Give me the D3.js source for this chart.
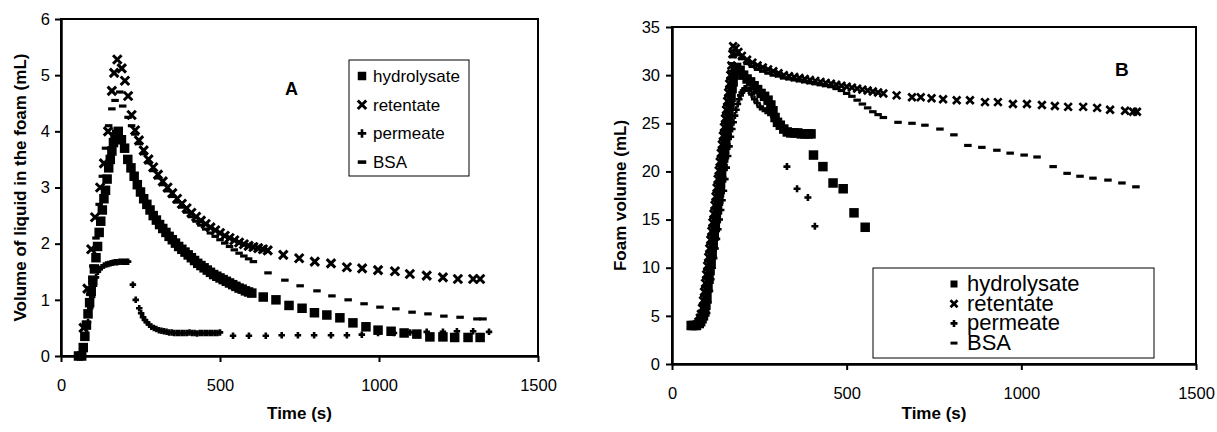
<!DOCTYPE html>
<html><head><meta charset="utf-8">
<script src="https://cdn.jsdelivr.net/npm/d3@7"></script>
<style>
body{margin:0;background:#fff}
text{font-family:"Liberation Sans",Arial,sans-serif;fill:#000}
</style>
</head><body><svg id="c" width="1217" height="432"></svg>
<script>
// ---------- Data (time in s, value in mL) ----------
const seriesNames = ["hydrolysate", "retentate", "permeate", "BSA"];
const xTicks = [0, 500, 1000, 1500];
const yTicksA = [0, 1, 2, 3, 4, 5, 6];
const yTicksB = [0, 5, 10, 15, 20, 25, 30, 35];

// Panel A: volume of liquid in the foam
const hydrolysateA = [[55,0],[65,0],[70,0.15],[75,0.35],[80,0.55],[85,0.75],[90,0.95],[95,1.15],[100,1.35],[105,1.55],[110,1.75],[115,1.95],[120,2.2],[125,2.4],[130,2.6],[135,2.8],[140,2.95],[145,3.15],[150,3.35],[155,3.5],[160,3.65],[165,3.8],[170,3.9],[175,3.95],[180,4.0],[190,3.85],[200,3.7],[210,3.5],[220,3.35],[230,3.2],[240,3.05],[250,2.92],[260,2.8],[270,2.7],[280,2.6],[290,2.5],[300,2.42],[310,2.34],[320,2.27],[330,2.2],[340,2.13],[350,2.07],[360,2.01],[370,1.95],[380,1.9],[390,1.85],[400,1.8],[410,1.75],[420,1.7],[430,1.65],[440,1.61],[450,1.57],[460,1.53],[470,1.49],[480,1.45],[490,1.42],[500,1.39],[510,1.36],[520,1.33],[530,1.3],[540,1.27],[550,1.24],[560,1.21],[570,1.19],[580,1.16],[590,1.14],[600,1.12],[636,1.05],[676,1.0],[717,0.9],[758,0.85],[797,0.77],[836,0.73],[877,0.68],[918,0.59],[959,0.52],[997,0.46],[1038,0.44],[1079,0.41],[1119,0.39],[1160,0.34],[1201,0.34],[1238,0.33],[1280,0.33],[1318,0.33]];
const retentateA = [[71,0.5],[83,1.2],[95,1.9],[107,2.47],[123,3.0],[135,3.43],[148,4.0],[160,4.72],[167,5.04],[177,5.28],[191,5.12],[201,4.9],[211,4.63],[222,4.29],[233,4.02],[245,3.84],[260,3.66],[275,3.5],[290,3.36],[305,3.23],[320,3.11],[335,3.0],[350,2.9],[365,2.8],[380,2.71],[395,2.63],[410,2.55],[425,2.48],[440,2.41],[455,2.35],[470,2.29],[485,2.24],[500,2.19],[515,2.14],[530,2.1],[545,2.06],[560,2.02],[575,1.99],[590,1.96],[605,1.94],[620,1.92],[635,1.9],[650,1.88],[699,1.8],[749,1.74],[798,1.68],[849,1.65],[899,1.58],[947,1.56],[997,1.53],[1050,1.51],[1097,1.46],[1150,1.43],[1201,1.4],[1248,1.37],[1296,1.37],[1318,1.37]];
const permeateA = [[60,0],[70,0.1],[78,0.35],[85,0.6],[92,0.85],[98,1.05],[104,1.25],[110,1.4],[116,1.5],[122,1.55],[128,1.58],[135,1.61],[142,1.63],[149,1.64],[156,1.65],[163,1.66],[170,1.67],[177,1.67],[184,1.68],[191,1.68],[198,1.68],[205,1.68],[211,1.68],[226,1.27],[235,1.0],[246,0.85],[252,0.76],[258,0.69],[264,0.64],[270,0.6],[277,0.56],[284,0.52],[292,0.5],[300,0.48],[308,0.46],[316,0.45],[324,0.44],[332,0.43],[340,0.42],[348,0.42],[356,0.41],[364,0.41],[372,0.41],[380,0.41],[388,0.41],[396,0.41],[404,0.42],[412,0.41],[420,0.41],[428,0.4],[436,0.41],[444,0.41],[452,0.41],[460,0.41],[468,0.41],[476,0.41],[484,0.41],[492,0.41],[500,0.42],[541,0.36],[591,0.36],[644,0.36],[694,0.37],[745,0.37],[796,0.37],[849,0.37],[899,0.37],[946,0.38],[997,0.41],[1047,0.41],[1098,0.42],[1150,0.43],[1201,0.43],[1245,0.44],[1296,0.44],[1346,0.43]];
const bsaA = [[70,0.2],[80,0.6],[90,1.1],[100,1.6],[110,2.1],[120,2.7],[130,3.2],[140,3.7],[150,4.1],[160,4.4],[170,4.55],[185,4.7],[194,4.45],[211,4.25],[222,4.1],[233,3.95],[245,3.78],[260,3.6],[275,3.44],[290,3.3],[305,3.17],[320,3.05],[335,2.94],[350,2.84],[365,2.74],[380,2.65],[395,2.56],[410,2.48],[425,2.4],[440,2.33],[455,2.26],[470,2.19],[485,2.13],[500,2.07],[515,2.01],[530,1.95],[545,1.89],[560,1.83],[575,1.78],[590,1.73],[605,1.68],[651,1.48],[704,1.35],[752,1.25],[805,1.16],[852,1.07],[903,1.0],[953,0.93],[1003,0.87],[1053,0.84],[1104,0.78],[1154,0.75],[1204,0.71],[1255,0.69],[1308,0.66],[1327,0.66]];

// Panel B: foam volume
const hydrolysateB = [[55,4.0],[62,4.0],[70,4.0],[78,4.2],[82,4.4],[86,4.7],[90,5.0],[94,5.4],[97,6.1],[100,7.0],[103,7.9],[106,8.8],[109,9.7],[112,10.6],[115,11.5],[118,12.4],[121,13.3],[124,14.2],[127,15.1],[130,16.0],[133,16.9],[136,17.8],[139,18.7],[142,19.6],[145,20.5],[148,21.4],[151,22.3],[154,23.2],[157,24.1],[160,25.0],[163,25.9],[166,26.8],[169,27.7],[172,28.6],[175,29.3],[178,30.0],[181,30.5],[185,30.8],[195,30.5],[205,30.0],[215,29.6],[225,29.3],[235,28.9],[245,28.5],[255,28.1],[265,27.8],[275,27.4],[283,26.9],[289,26.3],[295,25.6],[302,25.1],[310,24.8],[320,24.4],[330,24.1],[340,24.0],[350,24.0],[360,24.0],[370,23.9],[380,23.9],[390,23.9],[398,23.9],[405,21.7],[432,20.5],[461,18.8],[490,18.2],[521,15.7],[553,14.2]];
const retentateB = [[55,4.0],[62,4.0],[70,4.1],[76,4.4],[80,4.8],[83,5.2],[86,5.8],[89,6.6],[92,7.5],[95,8.4],[98,9.3],[101,10.2],[104,11.1],[107,12.0],[110,12.9],[113,13.8],[116,14.7],[119,15.6],[122,16.5],[125,17.4],[128,18.3],[131,19.2],[134,20.1],[137,21.0],[140,21.9],[143,22.8],[146,23.7],[149,24.6],[152,25.5],[155,26.4],[158,27.3],[161,28.2],[164,29.1],[167,30.0],[170,31.0],[173,32.2],[175,33],[182,32.8],[190,32.4],[200,32.0],[215,31.6],[230,31.3],[245,31.0],[260,30.8],[275,30.6],[290,30.4],[305,30.2],[320,30.0],[335,29.9],[350,29.8],[365,29.7],[380,29.6],[395,29.5],[410,29.4],[425,29.3],[440,29.2],[455,29.1],[470,29.0],[485,28.9],[500,28.8],[515,28.7],[530,28.6],[545,28.5],[560,28.4],[575,28.3],[590,28.2],[605,28.1],[643,27.9],[687,27.7],[712,27.7],[743,27.6],[776,27.5],[815,27.4],[853,27.4],[896,27.2],[933,27.2],[976,27.0],[1016,27.0],[1059,26.9],[1096,26.8],[1134,26.7],[1177,26.7],[1217,26.6],[1254,26.4],[1297,26.3],[1320,26.2],[1331,26.2]];
const permeateB = [[60,4.0],[68,4.0],[76,4.1],[84,4.3],[92,4.7],[100,5.3],[104,6.4],[108,7.6],[112,8.8],[116,10.0],[120,11.0],[124,12.0],[128,13.0],[132,14.0],[136,15.0],[140,16.0],[144,17.0],[148,18.0],[152,19.2],[156,20.4],[160,21.6],[164,22.6],[168,23.6],[172,24.4],[176,25.1],[180,25.8],[184,26.4],[188,27.0],[192,27.5],[196,27.9],[200,28.2],[204,28.4],[208,28.6],[212,28.6],[220,28.4],[228,28.0],[236,27.5],[244,27.1],[252,26.7],[260,26.5],[268,26.3],[276,26.1],[284,25.9],[292,25.8],[329,20.5],[358,18.2],[389,17.3],[409,14.3]];
const bsaB = [[55,4.0],[65,4.0],[72,4.2],[76,4.4],[80,4.8],[84,5.4],[88,6.2],[91,7.1],[94,8.0],[97,8.9],[100,9.8],[103,10.7],[106,11.6],[109,12.5],[112,13.4],[115,14.3],[118,15.2],[121,16.1],[124,17.0],[127,17.9],[130,18.8],[133,19.7],[136,20.6],[139,21.5],[142,22.4],[145,23.3],[148,24.2],[151,25.1],[154,26.0],[157,26.9],[160,27.8],[163,28.7],[166,29.6],[169,30.4],[172,31.2],[175,31.9],[178,32.5],[188,32.1],[200,31.7],[215,31.2],[230,30.9],[245,30.6],[260,30.4],[275,30.2],[290,30.0],[305,29.9],[320,29.7],[335,29.6],[350,29.5],[365,29.4],[380,29.3],[395,29.2],[410,29.1],[425,29.0],[440,28.9],[455,28.8],[470,28.6],[485,28.4],[500,28.1],[515,27.8],[530,27.4],[545,27.0],[560,26.6],[575,26.2],[590,25.9],[605,25.6],[647,25.1],[687,25.0],[724,24.8],[767,24.4],[807,23.8],[847,22.7],[887,22.5],[930,22.2],[968,21.9],[1008,21.7],[1045,21.5],[1091,20.5],[1131,19.8],[1168,19.5],[1205,19.3],[1248,19.1],[1288,18.8],[1328,18.4]];

// ---------- Drawing ----------
const svg = d3.select("#c");
svg.append("rect").attr("width",1217).attr("height",432).attr("fill","#fff");

function drawMarker(g, type, cx, cy, s, sw) {
  if (type === "square") {
    g.append("rect").attr("x", cx - s/2).attr("y", cy - s/2).attr("width", s).attr("height", s).attr("fill", "#000");
  } else if (type === "times") {
    const a = s/2;
    g.append("path").attr("d", `M${cx-a},${cy-a}L${cx+a},${cy+a}M${cx-a},${cy+a}L${cx+a},${cy-a}`)
      .attr("stroke", "#000").attr("stroke-width", sw).attr("fill","none");
  } else if (type === "plus") {
    const a = s/2;
    g.append("path").attr("d", `M${cx-a},${cy}L${cx+a},${cy}M${cx},${cy-a}L${cx},${cy+a}`)
      .attr("stroke", "#000").attr("stroke-width", sw).attr("fill","none");
  } else if (type === "dash") {
    g.append("rect").attr("x", cx - s*0.5).attr("y", cy - s*0.21).attr("width", s).attr("height", s*0.42).attr("fill", "#000");
  }
}

function panel(cfg) {
  const x = d3.scaleLinear().domain([0, 1500]).range([cfg.left, cfg.right]);
  const y = d3.scaleLinear().domain(cfg.yDomain).range([cfg.bottom, cfg.top]);
  const g = svg.append("g");

  cfg.series.forEach(s => {
    const sg = g.append("g");
    s.data.forEach(d => drawMarker(sg, s.type, x(d[0]), y(d[1]), s.size, s.sw));
  });

  g.append("rect").attr("x", cfg.left).attr("y", cfg.top)
    .attr("width", cfg.right - cfg.left).attr("height", cfg.bottom - cfg.top)
    .attr("fill", "none").attr("stroke", "#000").attr("stroke-width", 2);

  const ax = g.append("g").attr("transform", `translate(0,${cfg.bottom})`)
    .call(d3.axisBottom(x).tickValues(xTicks).tickFormat(d3.format("d")).tickSize(6).tickSizeOuter(0).tickPadding(cfg.xPad));
  const ay = g.append("g").attr("transform", `translate(${cfg.left},0)`)
    .call(d3.axisLeft(y).tickValues(cfg.yTicks).tickFormat(d3.format("d")).tickSize(6).tickSizeOuter(0).tickPadding(cfg.yPad));
  [ax, ay].forEach(a => {
    a.select(".domain").attr("stroke", "#000").attr("stroke-width", 2.5);
    a.selectAll(".tick line").attr("stroke", "#000").attr("stroke-width", 2);
    a.selectAll(".tick text").attr("font-size", 16.5).attr("font-family", "Liberation Sans, Arial, sans-serif").attr("fill", "#000");
  });

  g.append("text").attr("x", (cfg.left + cfg.right)/2).attr("y", cfg.xTitleY)
    .attr("text-anchor", "middle").attr("font-weight", "bold").attr("font-size", 17).text("Time (s)");
  g.append("text").attr("transform", `translate(${cfg.yTitleX},${(cfg.top + cfg.bottom)/2}) rotate(-90)`)
    .attr("text-anchor", "middle").attr("font-weight", "bold").attr("font-size", 17).text(cfg.yTitle);

  g.append("text").attr("x", cfg.letterX).attr("y", cfg.letterY).attr("font-weight", "bold")
    .attr("font-size", cfg.letterSize).text(cfg.letter);

  const L = cfg.legend;
  g.append("rect").attr("x", L.x0).attr("y", L.y0).attr("width", L.x1 - L.x0).attr("height", L.y1 - L.y0)
    .attr("fill", "#fff").attr("stroke", "#000").attr("stroke-width", 1);
  cfg.series.forEach((s, i) => {
    drawMarker(g, s.type, L.mx, L.my0 + i * L.dy, L.ms, s.sw);
    g.append("text").attr("x", L.tx).attr("y", L.ty0 + i * L.dy).attr("font-size", L.fs).text(seriesNames[i]);
  });
}

panel({
  left: 61, right: 538, top: 19, bottom: 356, yDomain: [0, 6], yTicks: yTicksA,
  xPad: 17, yPad: 5, xTitleY: 419, yTitleX: 26,
  yTitle: "Volume of liquid in the foam (mL)",
  letter: "A", letterX: 285, letterY: 95, letterSize: 18,
  series: [
    {data: hydrolysateA, type: "square", size: 9.5},
    {data: retentateA, type: "times", size: 8.5, sw: 3},
    {data: permeateA, type: "plus", size: 6.5, sw: 2.6},
    {data: bsaA, type: "dash", size: 7.5}
  ],
  legend: {x0: 349, y0: 60, x1: 469, y1: 176, mx: 362, my0: 76, dy: 28.7, ms: 8.5, tx: 373, ty0: 82, fs: 17}
});

panel({
  left: 672, right: 1196, top: 27, bottom: 364, yDomain: [0, 35], yTicks: yTicksB,
  xPad: 17, yPad: 6, xTitleY: 419, yTitleX: 626,
  yTitle: "Foam volume (mL)",
  letter: "B", letterX: 1115, letterY: 76, letterSize: 19,
  series: [
    {data: hydrolysateB, type: "square", size: 9.5},
    {data: retentateB, type: "times", size: 7.5, sw: 2.7},
    {data: permeateB, type: "plus", size: 7, sw: 2.6},
    {data: bsaB, type: "dash", size: 7.5}
  ],
  legend: {x0: 873, y0: 268, x1: 1154, y1: 358, mx: 954, my0: 284, dy: 19.7, ms: 7, tx: 967, ty0: 291, fs: 22}
});
</script>
</body></html>
